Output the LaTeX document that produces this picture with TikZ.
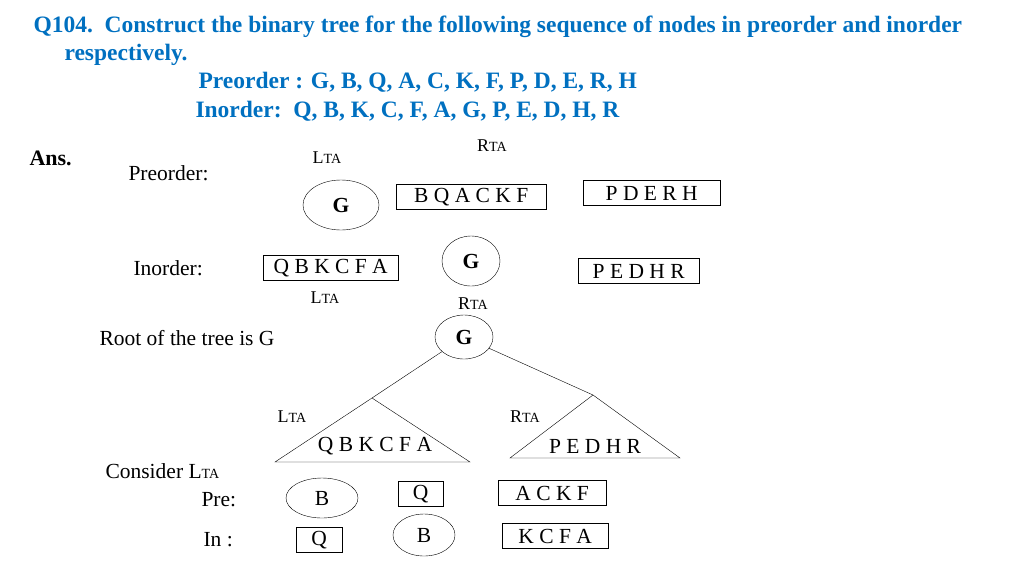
\documentclass[tikz,border=0pt]{standalone}
\usepackage{fontspec}
\setmainfont{Liberation Serif}
\usetikzlibrary{shapes.geometric}
\definecolor{titleblue}{RGB}{0,112,192}
\newcommand{\lta}{{\fontsize{18}{20}\selectfont L}{\fontsize{14}{16}\selectfont TA}}
\newcommand{\rta}{{\fontsize{18}{20}\selectfont R}{\fontsize{14}{16}\selectfont TA}}
\begin{document}
\begin{tikzpicture}[x=1pt,y=-1pt,
    every node/.style={font=\fontsize{21.5}{24}\selectfont},
    title/.style={font=\fontsize{23.5}{26}\selectfont\bfseries, text=titleblue, anchor=west},
    lbl/.style={anchor=west},
    seqbox/.style={draw, rectangle, anchor=west, minimum height=25pt, inner xsep=5pt, inner ysep=1pt},
    rootell/.style={draw, ellipse, inner sep=0pt, font=\fontsize{21.5}{24}\selectfont\bfseries},
    subtree/.style={draw}]
    \useasboundingbox (0,0) rectangle (1024,576);
    % title
    \node[title] (q) at (30,27) {Q104.\ \ Construct the binary tree for the following sequence of nodes in preorder and inorder};
    \node[title] (resp) at (61,55) {respectively.};
    \node[title] (pre) at (195,82) {Preorder : G, B, Q, A, C, K, F, P, D, E, R, H};
    \node[title] (ino) at (192,111) {Inorder:\ \ Q, B, K, C, F, A, G, P, E, D, H, R};
    % answer
    \node[lbl, font=\fontsize{22}{24}\selectfont\bfseries] (ans) at (26,158) {Ans.};
    \node[lbl] (prel) at (125,173) {Preorder:};
    \node (lta1) at (327,158) {\lta};
    \node (rta1) at (492,146) {\rta};
    \node[rootell, minimum width=76pt, minimum height=50pt] (g1) at (341,205) {G};
    \node[seqbox, minimum width=150pt] (bq) at (396,197) {B Q A C K F};
    \node[seqbox, minimum width=137pt] (pd) at (583,193) {P D E R H};
    \node[lbl] (inl) at (130,268) {Inorder:};
    \node[seqbox, minimum width=135pt] (qb) at (263,268) {Q B K C F A};
    \node[rootell, minimum width=58pt, minimum height=50pt] (g2) at (471,261) {G};
    \node[seqbox, minimum width=121pt] (pe) at (578,271) {P E D H R};
    \node (lta2) at (325,298) {\lta};
    \node (rta2) at (473,304) {\rta};
    % tree
    \node[lbl] (root) at (96,338) {Root of the tree is G};
    \node[rootell, minimum width=58pt, minimum height=44pt] (g3) at (464,337) {G};
    \coordinate (la) at (372,398);
    \coordinate (ra) at (593,395);
    \draw (g3) -- (la);
    \draw (g3) -- (ra);
    \draw[subtree] (la) -- (275,462) -- (470,462) -- cycle;
    \draw[subtree] (ra) -- (510,458) -- (680,458) -- cycle;
    \node (lt) at (375,446) {Q B K C F A};
    \node (rt) at (595,446) {P E D H R};
    \node (lta3) at (292,417) {\lta};
    \node (rta3) at (525,417) {\rta};
    % consider LTA
    \node[lbl] (cons) at (102,471) {Consider {\fontsize{21.5}{24}\selectfont L}{\fontsize{14}{16}\selectfont TA}};
    \node[lbl] (prel2) at (198,500) {Pre:};
    \node[draw, ellipse, inner sep=0pt, minimum width=72pt, minimum height=40pt] (b1) at (322,498) {B};
    \node[seqbox, minimum width=45pt] (q1) at (398,494) {Q};
    \node[seqbox, minimum width=108pt] (ac) at (498,493) {A C K F};
    \node[lbl] (inl2) at (200,540) {In :};
    \node[seqbox, minimum width=46pt] (q2) at (296,540) {Q};
    \node[draw, ellipse, inner sep=0pt, minimum width=62pt, minimum height=42pt] (b2) at (424,535) {B};
    \node[seqbox, minimum width=106pt] (kc) at (502,536) {K C F A};
\end{tikzpicture}
\end{document}
